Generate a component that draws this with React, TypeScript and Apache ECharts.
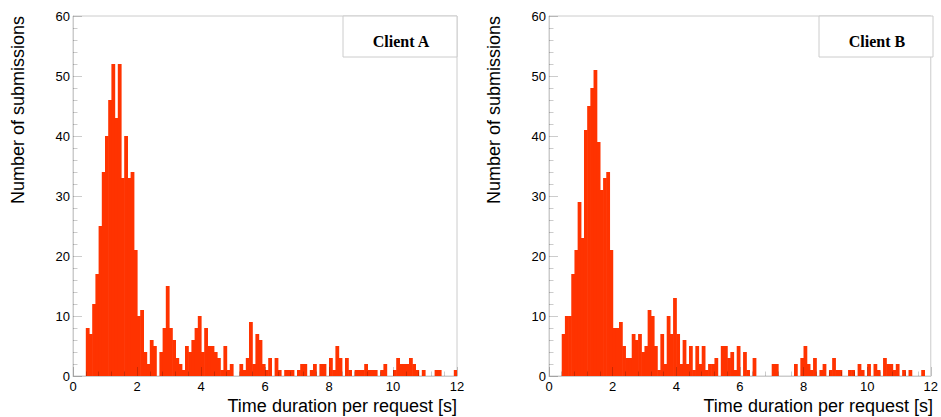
import React, { useEffect, useRef } from "react";
import * as echarts from "echarts";

// Histogram counts per 0.1 s bin, from 0.0 s to 12.0 s (120 bins)
const clientACounts: number[] = [
  0, 0, 0, 0, 8, 7, 12, 17, 25, 34,
  40, 46, 52, 43, 52, 33, 40, 33, 34, 21,
  10, 11, 4, 2, 6, 5, 0, 4, 8, 15,
  8, 6, 3, 2, 1, 5, 4, 6, 8, 10,
  4, 8, 5, 5, 4, 3, 1, 5, 1, 2,
  0, 0, 2, 1, 3, 9, 2, 7, 6, 2,
  1, 3, 0, 3, 1, 0, 1, 1, 1, 0,
  1, 2, 2, 0, 1, 2, 0, 2, 2, 0,
  3, 1, 5, 3, 0, 3, 1, 0, 1, 1,
  1, 2, 1, 1, 1, 0, 1, 2, 0, 0,
  1, 3, 2, 2, 2, 3, 2, 1, 0, 1,
  0, 0, 0, 1, 1, 0, 0, 0, 0, 1,
];

const clientBCounts: number[] = [
  0, 0, 0, 0, 7, 10, 10, 17, 21, 29,
  23, 41, 45, 48, 51, 39, 31, 33, 34, 21,
  8, 8, 9, 5, 3, 3, 7, 6, 7, 4,
  5, 11, 10, 5, 1, 7, 2, 10, 7, 13,
  7, 2, 6, 2, 5, 1, 5, 2, 5, 1,
  2, 2, 3, 0, 5, 5, 3, 4, 1, 5,
  0, 4, 1, 0, 3, 0, 0, 0, 0, 0,
  2, 2, 0, 0, 0, 0, 0, 2, 0, 3,
  5, 2, 1, 3, 0, 1, 2, 0, 1, 3,
  1, 1, 0, 0, 1, 1, 0, 2, 1, 0,
  2, 0, 2, 1, 0, 3, 2, 2, 1, 2,
  0, 1, 0, 1, 0, 0, 0, 1, 0, 0,
];

const binWidth = 0.1;
const xMin = 0;
const xMax = 12;
const yMin = 0;
const yMax = 60;
const panelLabels = ["Client A", "Client B"];
const xTitle = "Time duration per request [s]";
const yTitle = "Number of submissions";

const SANS = "'Liberation Sans', Arial, Helvetica, sans-serif";
const SERIF = "'Liberation Serif', 'Times New Roman', serif";
const BAR = "#ff3300";
const FRAME = "#cccccc";
const TICK = "rgba(0,0,0,0.2)";

function toBins(counts: number[]) {
  return counts
    .map((v, i) => [+(i * binWidth).toFixed(1), +((i + 1) * binWidth).toFixed(1), v])
    .filter((d) => d[2] > 0);
}

const grids = [
  { left: 73, top: 16, width: 384, height: 360 },
  { left: 549, top: 16, width: 384, height: 360 },
];

export default function App() {
  const ref = useRef<HTMLDivElement>(null);
  useEffect(() => {
    if (!ref.current) return;
    const chart = echarts.init(ref.current, undefined, { renderer: "svg" });

    const xAxes = grids.map((_, i) => ({
      type: "value",
      gridIndex: i,
      min: xMin,
      max: xMax,
      interval: 2,
      z: 5,
      axisLine: { show: true, lineStyle: { color: FRAME, width: 1 } },
      axisTick: { show: true, inside: true, length: 9, lineStyle: { color: TICK, width: 1 } },
      minorTick: { show: true, splitNumber: 5, length: 4.5, lineStyle: { color: TICK, width: 1 } },
      splitLine: { show: false },
      axisLabel: { show: true, margin: 4, fontSize: 13, color: "#000", fontFamily: SANS },
    }));
    const yAxes = grids.map((_, i) => ({
      type: "value",
      gridIndex: i,
      min: yMin,
      max: yMax,
      interval: 10,
      z: 5,
      axisLine: { show: true, lineStyle: { color: FRAME, width: 1 } },
      axisTick: { show: true, inside: true, length: 9, lineStyle: { color: TICK, width: 1 } },
      minorTick: { show: true, splitNumber: 5, length: 4.5, lineStyle: { color: TICK, width: 1 } },
      splitLine: { show: false },
      axisLabel: { show: true, margin: 3, fontSize: 13, color: "#000", fontFamily: SANS },
    }));

    const makeSeries = (counts: number[], idx: number) => ({
      type: "custom",
      xAxisIndex: idx,
      yAxisIndex: idx,
      data: toBins(counts),
      encode: { x: [0, 1], y: 2 },
      clip: true,
      renderItem: (params: any, api: any) => {
        const p0 = api.coord([api.value(0), api.value(2)]);
        const p1 = api.coord([api.value(1), 0]);
        return {
          type: "rect",
          shape: { x: p0[0], y: p0[1], width: p1[0] - p0[0] + 0.6, height: p1[1] - p0[1] },
          style: { fill: BAR, stroke: null, lineWidth: 0 },
        };
      },
    });

    const graphics: any[] = [];
    grids.forEach((g, i) => {
      const right = g.left + g.width;
      graphics.push({
        type: "rect",
        z: 10,
        shape: { x: right - 114, y: g.top, width: 114, height: 41 },
        style: { fill: "#fff", stroke: FRAME, lineWidth: 1 },
      });
      graphics.push({
        type: "text",
        z: 11,
        x: right - 56,
        y: 41,
        style: {
          text: panelLabels[i],
          font: `bold 16px ${SERIF}`,
          fill: "#000",
          textAlign: "center",
          textVerticalAlign: "middle",
        },
      });
      graphics.push({
        type: "text",
        z: 11,
        x: right,
        y: 406,
        style: {
          text: xTitle,
          font: `18px ${SANS}`,
          fill: "#000",
          textAlign: "right",
          textVerticalAlign: "middle",
        },
      });
      graphics.push({
        type: "text",
        z: 11,
        x: g.left - 55,
        y: g.top,
        rotation: Math.PI / 2,
        style: {
          text: yTitle,
          font: `18px ${SANS}`,
          fill: "#000",
          textAlign: "right",
          textVerticalAlign: "middle",
        },
      });
    });

    chart.setOption({
      animation: false,
      backgroundColor: "#fff",
      grid: grids.map((g) => ({
        ...g,
        show: true,
        borderColor: FRAME,
        borderWidth: 1,
        backgroundColor: "transparent",
        containLabel: false,
      })),
      xAxis: xAxes,
      yAxis: yAxes,
      series: [makeSeries(clientACounts, 0), makeSeries(clientBCounts, 1)],
      graphic: graphics,
    });
    return () => chart.dispose();
  }, []);

  return (
    <div
      ref={ref}
      style={{ position: "absolute", left: 0, top: 0, width: 941, height: 417, background: "#fff" }}
    />
  );
}
